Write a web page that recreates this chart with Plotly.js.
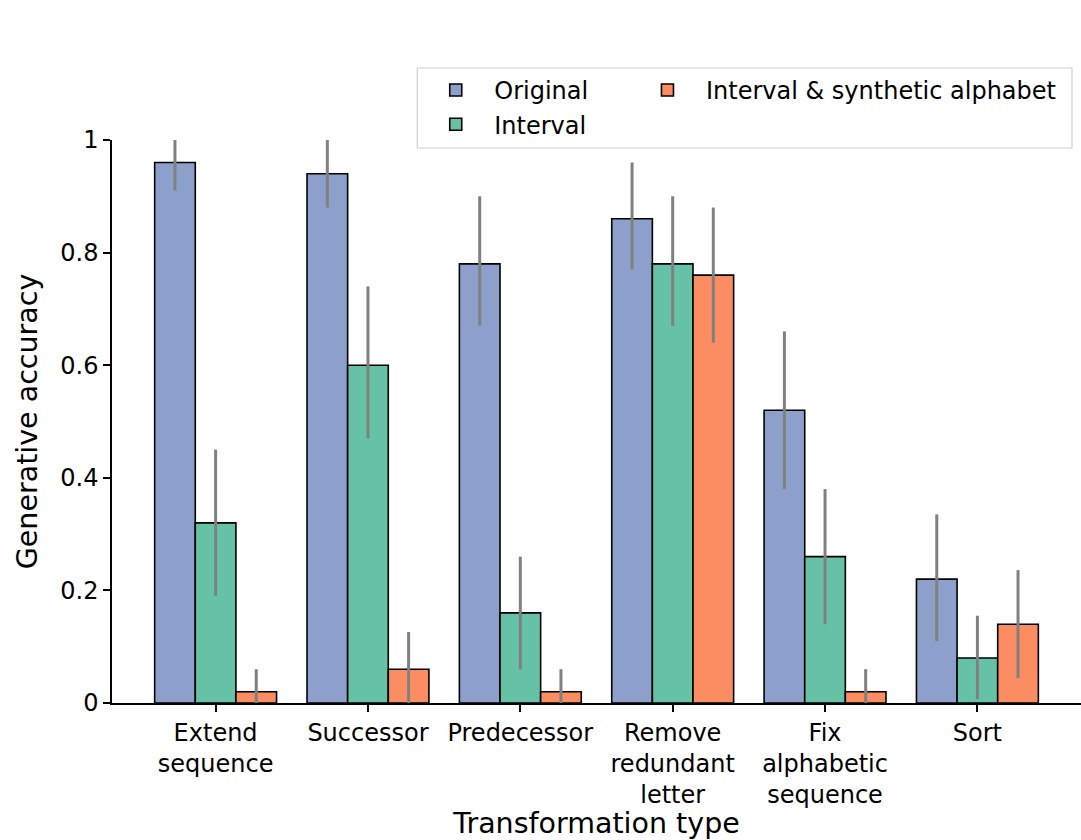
<!DOCTYPE html>
<html>
<head>
<meta charset="utf-8">
<script src="https://cdn.plot.ly/plotly-3.0.1.min.js"></script>
<style>html,body{margin:0;padding:0;background:#fff;}</style>
</head>
<body>
<div id="chart" style="width:1081px;height:840px;"></div>
<script>
// Categories (tick labels)
const categories = ["Extend<br>sequence", "Successor", "Predecessor", "Remove<br>redundant<br>letter", "Fix<br>alphabetic<br>sequence", "Sort"];

// Series names
const seriesNames = ["Original", "Interval", "Interval & synthetic alphabet"];

// Mean generative accuracy
const originalValues = [0.96, 0.94, 0.78, 0.86, 0.52, 0.22];
const intervalValues = [0.32, 0.60, 0.16, 0.78, 0.26, 0.08];
const syntheticValues = [0.02, 0.06, 0.02, 0.76, 0.02, 0.14];

// Confidence interval bounds (lower / upper)
const originalLower = [0.91, 0.88, 0.67, 0.77, 0.38, 0.11];
const originalUpper = [1.00, 1.00, 0.90, 0.96, 0.66, 0.335];
const intervalLower = [0.19, 0.47, 0.06, 0.67, 0.14, 0.007];
const intervalUpper = [0.45, 0.74, 0.26, 0.90, 0.38, 0.155];
const syntheticLower = [0.00, 0.00, 0.00, 0.64, 0.00, 0.044];
const syntheticUpper = [0.06, 0.126, 0.06, 0.88, 0.06, 0.236];

// Y tick values / labels
const yTickVals = [0, 0.2, 0.4, 0.6, 0.8, 1];
const yTickText = ["0", "0.2", "0.4", "0.6", "0.8", "1"];

const colors = ["#8da0cb", "#66c2a5", "#fc8d62"];
const FONT = "DejaVu Sans, Liberation Sans, sans-serif";

function makeTrace(name, vals, lo, hi, color, legendId) {
  return {
    type: "bar",
    name: name,
    x: categories,
    y: vals,
    legend: legendId,
    marker: { color: color, line: { color: "#000000", width: 1.6 } },
    cliponaxis: false,
    error_y: {
      type: "data",
      symmetric: false,
      array: vals.map((v, i) => hi[i] - v),
      arrayminus: vals.map((v, i) => v - lo[i]),
      color: "#808080",
      thickness: 3,
      width: 0
    },
    hoverinfo: "x+y+name"
  };
}

const data = [
  makeTrace(seriesNames[0], originalValues, originalLower, originalUpper, colors[0], "legend"),
  makeTrace(seriesNames[1], intervalValues, intervalLower, intervalUpper, colors[1], "legend"),
  makeTrace(seriesNames[2], syntheticValues, syntheticLower, syntheticUpper, colors[2], "legend2")
];

const legendCommon = {
  orientation: "v",
  xanchor: "left",
  yanchor: "top",
  y: 1.128,
  bgcolor: "rgba(0,0,0,0)",
  borderwidth: 0,
  itemwidth: 67,
  font: { family: FONT, size: 24, color: "#000" },
  traceorder: "normal"
};

const layout = {
  width: 1081,
  height: 840,
  margin: { l: 112, r: 0, t: 140, b: 137, pad: 0 },
  paper_bgcolor: "#ffffff",
  plot_bgcolor: "#ffffff",
  font: { family: FONT, size: 24, color: "#000" },
  barmode: "group",
  bargap: 0.2,
  bargroupgap: 0,
  showlegend: true,
  legend: Object.assign({}, legendCommon, { x: 0.315 }),
  legend2: Object.assign({}, legendCommon, { x: 0.5335 }),
  shapes: [{
    type: "rect",
    xref: "paper", yref: "paper",
    x0: 0.315, x1: 0.9907, y0: 0.9858, y1: 1.1279,
    line: { color: "#d0d0d0", width: 1.2 },
    fillcolor: "rgba(255,255,255,0.8)",
    layer: "above"
  }],
  xaxis: {
    type: "category",
    range: [-0.68, 5.68],
    showline: true,
    linecolor: "#000",
    linewidth: 1.5,
    ticks: "outside",
    ticklen: 7,
    tickwidth: 1.5,
    tickcolor: "#000",
    tickfont: { family: FONT, size: 24, color: "#000" },
    showgrid: false,
    zeroline: false,
    automargin: false,
    title: { text: "Transformation type", font: { family: FONT, size: 28.5, color: "#000" }, standoff: 8 }
  },
  yaxis: {
    range: [0, 1],
    tickvals: yTickVals,
    ticktext: yTickText,
    showline: true,
    linecolor: "#000",
    linewidth: 1.5,
    ticks: "outside",
    ticklen: 7,
    tickwidth: 1.5,
    tickcolor: "#000",
    tickfont: { family: FONT, size: 24, color: "#000" },
    showgrid: false,
    zeroline: false,
    automargin: false,
    title: { text: "Generative accuracy", font: { family: FONT, size: 28.5, color: "#000" }, standoff: 14 }
  }
};

Plotly.newPlot("chart", data, layout, { displayModeBar: false, responsive: false });
</script>
</body>
</html>
